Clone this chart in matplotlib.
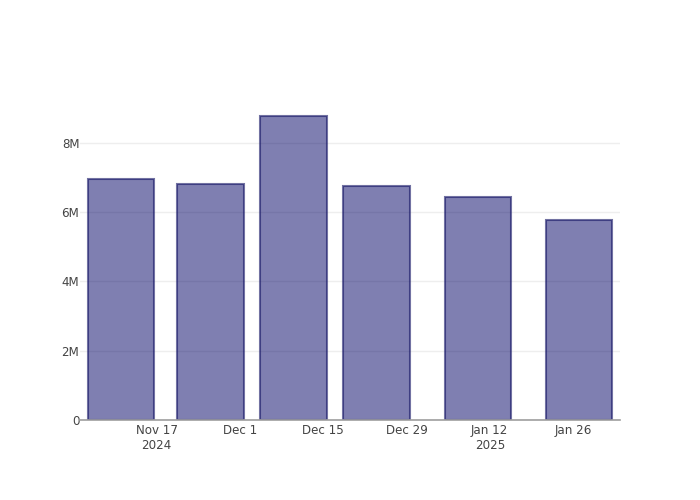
import matplotlib
matplotlib.use("Agg")
import matplotlib.pyplot as plt
import matplotlib.dates as mdates
import numpy as np
from datetime import datetime

plt.rcParams['font.family'] = ['DejaVu Sans']

# weekly-ish totals
dates = ['2024-11-11', '2024-11-26', '2024-12-10', '2024-12-24', '2025-01-10', '2025-01-27']
values = [6.96e6, 6.82e6, 8.78e6, 6.75e6, 6.44e6, 5.77e6]

tick_dates = ['2024-11-17', '2024-12-01', '2024-12-15', '2024-12-29', '2025-01-12', '2025-01-26']
tick_labels = ['Nov 17\n2024', 'Dec 1', 'Dec 15', 'Dec 29', 'Jan 12\n2025', 'Jan 26']

y_ticks = [0, 2e6, 4e6, 6e6, 8e6]
y_labels = ['0', '2M', '4M', '6M', '8M']

x = mdates.date2num([datetime.strptime(d, '%Y-%m-%d') for d in dates])
xt = mdates.date2num([datetime.strptime(d, '%Y-%m-%d') for d in tick_dates])

# plotly-style bar width: 80% of the smallest gap
width = 0.8 * np.min(np.diff(x))

fig = plt.figure(figsize=(7, 5), dpi=100)
ax = fig.add_axes([80 / 700, 80 / 500, 540 / 700, 320 / 500])

ax.bar(x, values, width=width, color=(0, 0, 100 / 255, 0.5),
       edgecolor=(20 / 255, 20 / 255, 100 / 255, 0.6), linewidth=1.5, zorder=2)

ax.set_xlim(x[0] - width / 2 - 1.3, x[-1] + width / 2 + 1.3)
ax.set_ylim(0, max(values) * 1.0526)

ax.set_xticks(xt)
ax.set_xticklabels(tick_labels, linespacing=1.2)
ax.set_yticks(y_ticks)
ax.set_yticklabels(y_labels)

ax.tick_params(axis='both', length=0, labelsize=8.6, labelcolor='#444444')
ax.tick_params(axis='x', pad=3)
ax.tick_params(axis='y', pad=0.5)

ax.grid(axis='y', color='#eeeeee', linewidth=1, zorder=0)
ax.set_axisbelow(True)

for s in ['top', 'right', 'left']:
    ax.spines[s].set_visible(False)
ax.spines['bottom'].set_color('#9e9e9e')
ax.spines['bottom'].set_linewidth(1.2)
ax.spines['bottom'].set_zorder(3)

fig.savefig('out.png', dpi=100)
